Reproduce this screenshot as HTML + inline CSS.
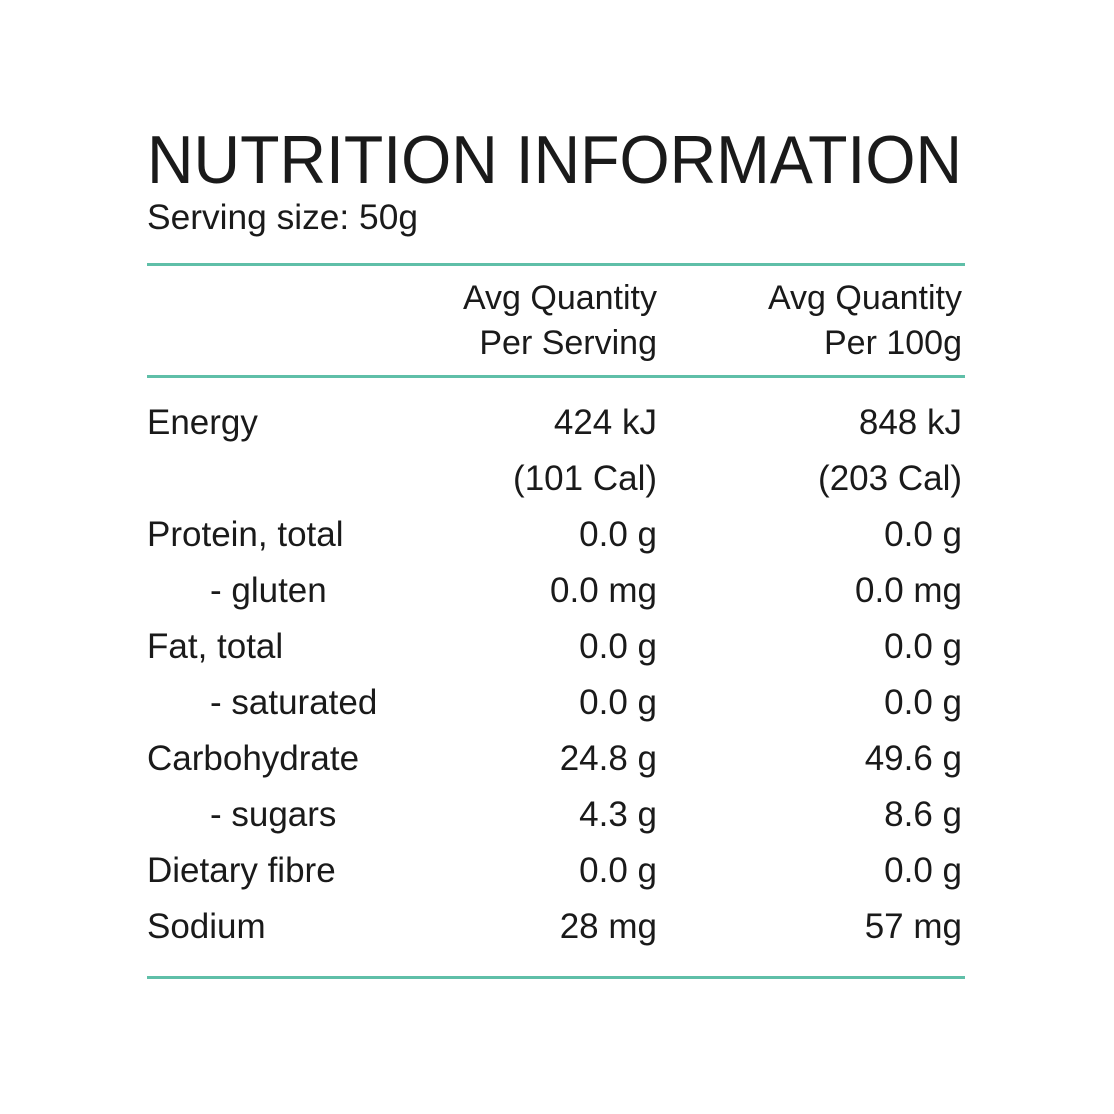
<!DOCTYPE html>
<html><head><meta charset="utf-8"><style>html,body{margin:0;padding:0;background:#fff}svg{display:block}</style></head>
<body>
<svg width="1114" height="1114" viewBox="0 0 1114 1114" xmlns="http://www.w3.org/2000/svg">
<rect width="1114" height="1114" fill="#fff"/>
<g font-family="Liberation Sans, sans-serif" fill="#1a1a1a">
<text x="147" y="183" font-size="68" textLength="815" lengthAdjust="spacingAndGlyphs">NUTRITION INFORMATION</text>
<text x="147" y="229" font-size="35" textLength="271" lengthAdjust="spacingAndGlyphs">Serving size: 50g</text>
<g font-size="34" text-anchor="end">
<text x="657" y="309">Avg Quantity</text>
<text x="657" y="354">Per Serving</text>
<text x="962" y="309">Avg Quantity</text>
<text x="962" y="354">Per 100g</text>
</g>
<g font-size="35">
<text x="147" y="434">Energy</text>
<text x="147" y="546">Protein, total</text>
<text x="210" y="602">- gluten</text>
<text x="147" y="658">Fat, total</text>
<text x="210" y="714">- saturated</text>
<text x="147" y="770">Carbohydrate</text>
<text x="210" y="826">- sugars</text>
<text x="147" y="882">Dietary fibre</text>
<text x="147" y="938">Sodium</text>
</g>
<g font-size="35" text-anchor="end">
<text x="657" y="434">424 kJ</text><text x="962" y="434">848 kJ</text>
<text x="657" y="490">(101 Cal)</text><text x="962" y="490">(203 Cal)</text>
<text x="657" y="546">0.0 g</text><text x="962" y="546">0.0 g</text>
<text x="657" y="602">0.0 mg</text><text x="962" y="602">0.0 mg</text>
<text x="657" y="658">0.0 g</text><text x="962" y="658">0.0 g</text>
<text x="657" y="714">0.0 g</text><text x="962" y="714">0.0 g</text>
<text x="657" y="770">24.8 g</text><text x="962" y="770">49.6 g</text>
<text x="657" y="826">4.3 g</text><text x="962" y="826">8.6 g</text>
<text x="657" y="882">0.0 g</text><text x="962" y="882">0.0 g</text>
<text x="657" y="938">28 mg</text><text x="962" y="938">57 mg</text>
</g>
</g>
<g fill="#5fbfa8">
<rect x="147" y="263" width="818" height="3"/>
<rect x="147" y="375" width="818" height="3"/>
<rect x="147" y="976" width="818" height="3"/>
</g>
</svg>
</body></html>
